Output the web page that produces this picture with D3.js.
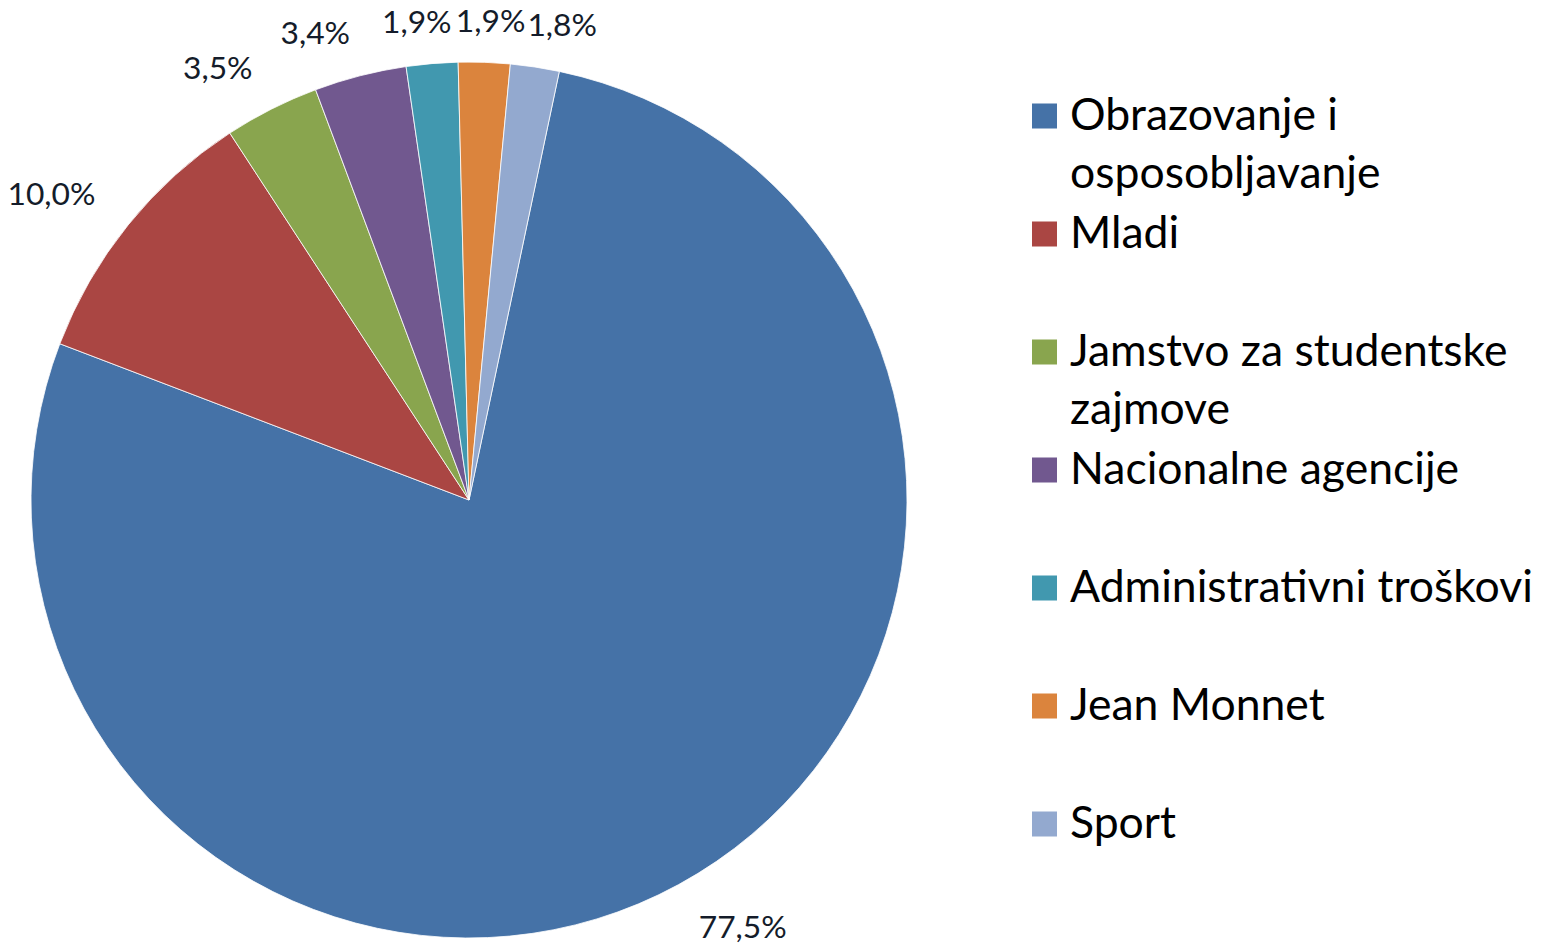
<!DOCTYPE html>
<html>
<head>
<meta charset="utf-8">
<script src="https://cdn.jsdelivr.net/npm/d3@7"></script>
<style>
  html, body { margin: 0; padding: 0; background: #fff; }
  svg { display: block; }
</style>
</head>
<body>
<svg id="chart" width="1547" height="946"></svg>
<script>
const categories = ["Obrazovanje i osposobljavanje", "Mladi", "Jamstvo za studentske zajmove",
  "Nacionalne agencije", "Administrativni troškovi", "Jean Monnet", "Sport"];
const legendLines = [["Obrazovanje i", "osposobljavanje"], ["Mladi"], ["Jamstvo za studentske", "zajmove"],
  ["Nacionalne agencije"], ["Administrativni troškovi"], ["Jean Monnet"], ["Sport"]];
const values = [77.5, 10.0, 3.5, 3.4, 1.9, 1.9, 1.8];
const valueLabels = ["77,5%", "10,0%", "3,5%", "3,4%", "1,9%", "1,9%", "1,8%"];
const colors = ["#4572A7", "#AA4643", "#89A54E", "#71588F", "#4198AF", "#DB843D", "#93A9CF"];

const svg = d3.select("#chart");
const cx = 469, cy = 500, r = 438;
const startDeg = 11.9;
const FONT = "Lato, 'Open Sans', sans-serif";

const pie = d3.pie().sort(null).value(d => d)
  .startAngle(startDeg * Math.PI / 180)
  .endAngle((startDeg + 360) * Math.PI / 180);
const arcs = pie(values);
const arc = d3.arc().innerRadius(0).outerRadius(r);

const g = svg.append("g").attr("transform", `translate(${cx},${cy})`);
g.selectAll("path.slice").data(arcs).enter().append("path")
  .attr("class", "slice")
  .attr("d", arc)
  .attr("fill", (d, i) => colors[i])
  .attr("stroke", "#fff").attr("stroke-width", 0.8);

function fitSize(text, targetW, base) {
  const t = svg.append("text").attr("font-family", FONT).attr("font-size", base).text(text);
  const w = t.node().getComputedTextLength();
  t.remove();
  return base * targetW / w;
}
const labelSize = Math.min(38, fitSize("10,0%", 88, 30));
const legendSize = Math.min(46, fitSize("Administrativni troškovi", 463, 40));

// data labels (outside end)
const lr = r + 42;
arcs.forEach((d, i) => {
  const a = (d.startAngle + d.endAngle) / 2;
  const s = Math.sin(a), c = -Math.cos(a);
  const t = g.append("text")
    .attr("font-family", FONT).attr("font-size", labelSize)
    .attr("fill", "#141c2a")
    .attr("text-anchor", "middle")
    .attr("dominant-baseline", "central")
    .text(valueLabels[i]);
  const w = t.node().getComputedTextLength();
  const k = Math.max(-1, Math.min(1, s * 4));
  t.attr("x", lr * s + k * w / 2).attr("y", lr * c + Math.abs(s) * c * 12);
});

// legend
const lx = 1032, ly0 = 116, lstep = 118, lineH = 58, sq = 25;
const leg = svg.append("g");
legendLines.forEach((lines, i) => {
  const y = ly0 + i * lstep;
  leg.append("rect").attr("x", lx).attr("y", y - sq / 2).attr("width", sq).attr("height", sq)
    .attr("fill", colors[i]);
  const t = leg.append("text").attr("font-family", FONT).attr("font-size", legendSize)
    .attr("fill", "#000");
  lines.forEach((ln, j) => {
    t.append("tspan").attr("x", lx + 38).attr("y", y + 14 + j * lineH).text(ln);
  });
});
</script>
</body>
</html>
